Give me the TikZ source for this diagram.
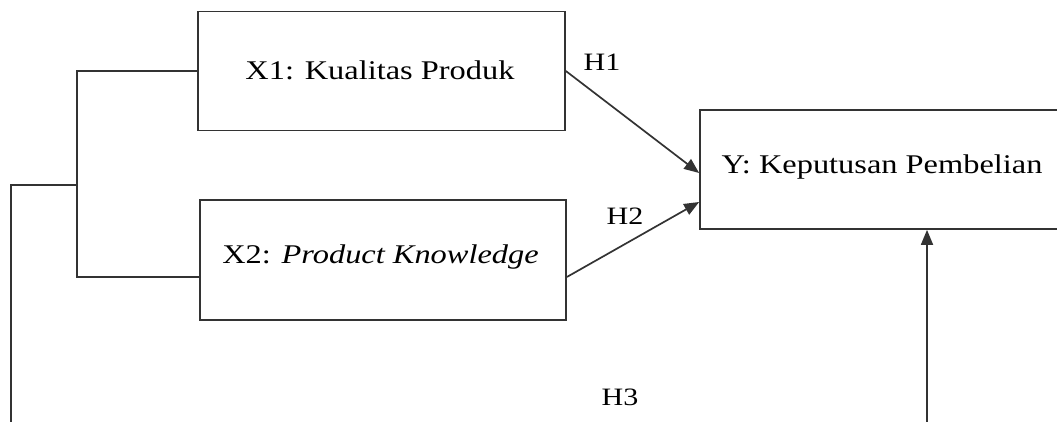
\documentclass[tikz,border=0pt]{standalone}
\usepackage{fontspec}
\setmainfont{Liberation Serif}[FakeStretch=1.2]
\usetikzlibrary{arrows.meta}
\begin{document}
\begin{tikzpicture}[x=1pt,y=-1pt,
  line/.style={draw=black!80,line width=1.7pt},
  box/.style={line,rectangle,inner sep=0pt},
  arr/.style={line,-{Triangle[length=15pt,width=12pt]}},
  lab/.style={anchor=base,inner sep=0pt,font=\fontsize{27}{30}\selectfont},
  hlab/.style={inner sep=0pt,font=\fontsize{25}{28}\selectfont}]
\useasboundingbox (0,0) rectangle (1057,421);
\clip (0,0) rectangle (1057,421);
% boxes
\node[box,minimum width=367pt,minimum height=119pt] (x1) at (381.5,71) {};
\node[box,minimum width=366pt,minimum height=120pt] (x2) at (383,260) {};
\node[box,minimum width=364pt,minimum height=119pt] (y) at (882,169.5) {};
% texts
\node[lab] (tx1) at (380,79) {X1: Kualitas Produk};
\node[lab] (tx2) at (380.5,263) {X2: \textit{Product Knowledge}};
\node[lab] (ty) at (882,173) {Y: Keputusan Pembelian};
\node[hlab] (h1) at (602,62) {H1};
\node[hlab] (h2) at (625,216) {H2};
\node[hlab] (h3) at (620,397) {H3};
% connectors
\coordinate (j) at (77,185);
\coordinate (x2w) at ([yshift=-17pt]x2.west);
\coordinate (s) at (11,440);
\coordinate (b) at (927,440);
\draw[line] (x1.west) -- (x1.west -| j) -- (x2w -| j) -- (x2w);
\draw[line] (j) -- (j -| s) -- (s);
\draw[arr] (x1.east) -- ([yshift=-3.5pt]y.west);
\draw[arr] ([yshift=-17pt]x2.east) -- ([yshift=-32.5pt]y.west);
\draw[arr] (b) -- (b |- y.south);
\end{tikzpicture}
\end{document}
